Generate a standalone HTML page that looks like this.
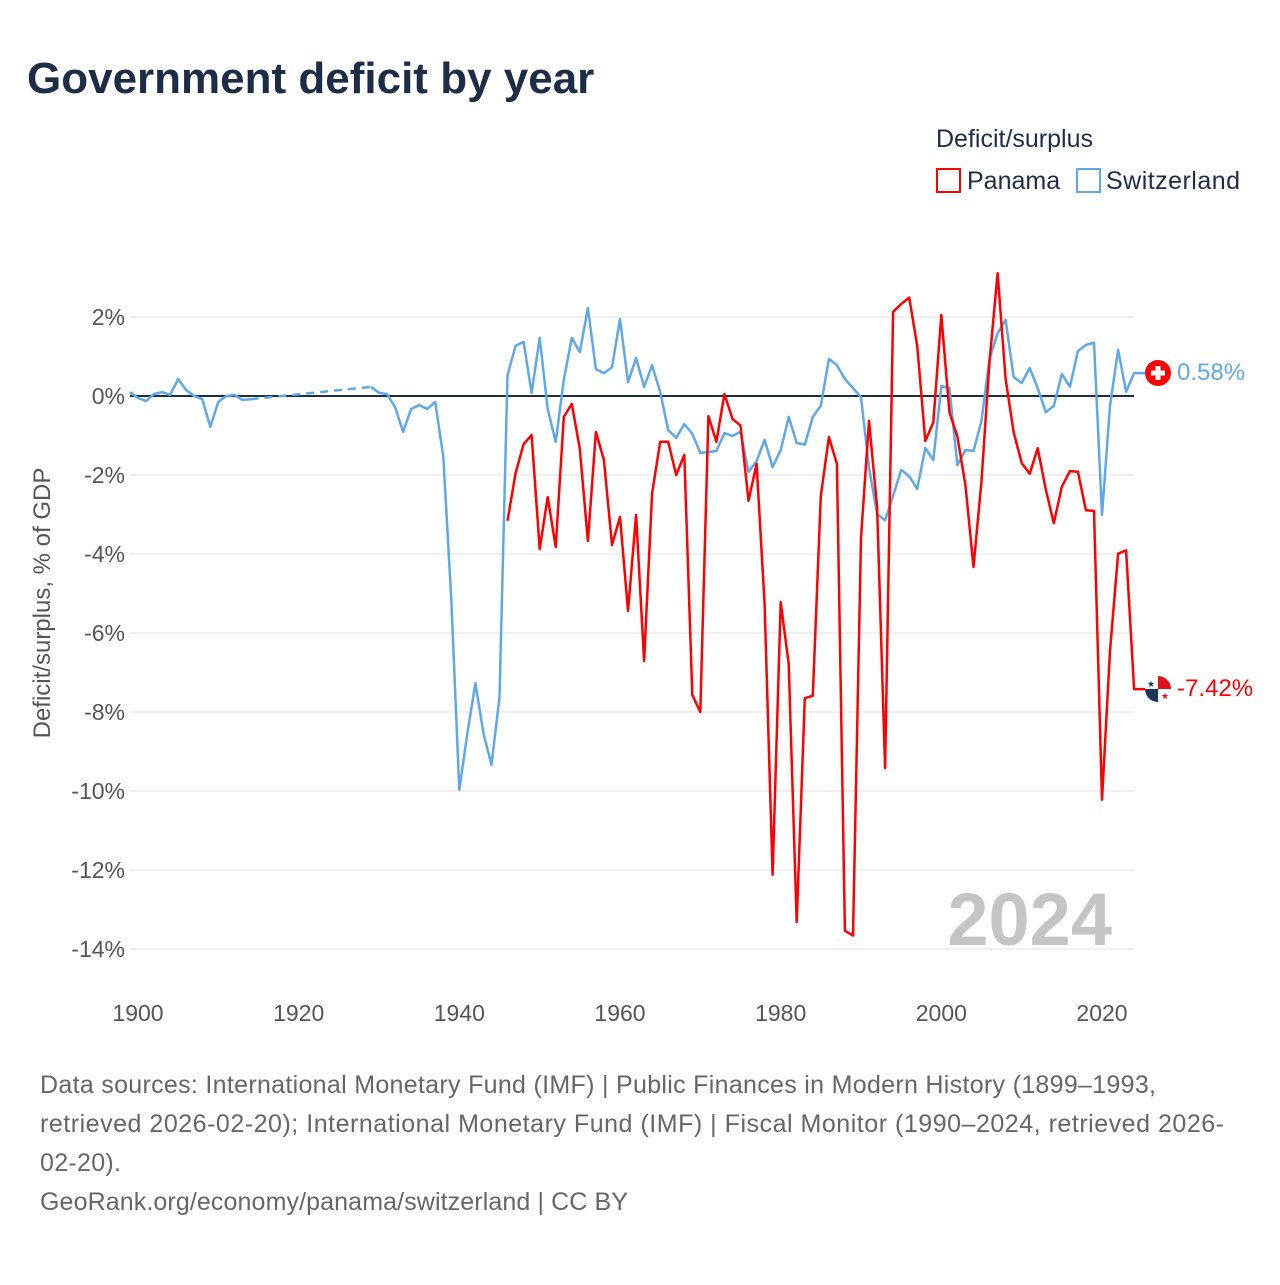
<!DOCTYPE html>
<html><head><meta charset="utf-8">
<style>
body{margin:0;background:#fff;font-family:"Liberation Sans",sans-serif;}
svg text{font-family:"Liberation Sans",sans-serif;}
</style></head>
<body>
<svg id="chart" width="1280" height="1280" viewBox="0 0 1280 1280" xmlns="http://www.w3.org/2000/svg">
<text x="27" y="93" font-size="44" font-weight="bold" fill="#1e2d47">Government deficit by year</text>
<text x="936" y="147" font-size="25" fill="#1e2d47">Deficit/surplus</text>
<g>
<rect x="937" y="169" width="23" height="23" fill="none" stroke="#ff0000" stroke-width="2"/>
<text x="967" y="189" font-size="25" fill="#1e2d47">Panama</text></g>
<g>
<rect x="1077" y="169" width="23" height="23" fill="none" stroke="#5fa8e8" stroke-width="2"/>
<text x="1106" y="189" font-size="25" fill="#1e2d47" textLength="134">Switzerland</text></g>
<text transform="translate(50,603) rotate(-90)" text-anchor="middle" font-size="24" fill="#555">Deficit/surplus, % of GDP</text>
<g id="grid"></g>
<text x="1112" y="945" text-anchor="end" font-size="74" font-weight="bold" fill="#c4c4c4">2024</text>
<g id="series"></g>
<g>
<circle cx="1158" cy="373" r="13" fill="#ff0000"/>
<rect x="1151" y="370.5" width="14" height="5" fill="#fff"/><rect x="1155.5" y="366" width="5" height="14" fill="#fff"/></g>
<text x="1177" y="380" font-size="24" fill="#5fa8e8">0.58%</text>
<g>
<clipPath id="pc"><circle cx="1158" cy="689" r="13"/></clipPath>
<g clip-path="url(#pc)"><rect x="1145" y="676" width="26" height="26" fill="#fff"/>
<rect x="1158" y="676" width="13" height="13" fill="#e01020"/><rect x="1145" y="689" width="13" height="13" fill="#1d3557"/></g>
<text x="1151" y="687" font-size="9" fill="#1d3557" text-anchor="middle">★</text>
<text x="1165" y="699" font-size="9" fill="#e01020" text-anchor="middle">★</text></g>
<text x="1177" y="696" font-size="24" fill="#ff0000">-7.42%</text>
<g font-size="25" fill="#666">
<text x="40" y="1093" textLength="1116">Data sources: International Monetary Fund (IMF) | Public Finances in Modern History (1899–1993,</text>
<text x="40" y="1132" textLength="1184">retrieved 2026-02-20); International Monetary Fund (IMF) | Fiscal Monitor (1990–2024, retrieved 2026-</text>
<text x="40" y="1171" textLength="81">02-20).</text>
<text x="40" y="1210" textLength="588">GeoRank.org/economy/panama/switzerland | CC BY</text></g>
</svg>
<script>
const yTicks=[2,0,-2,-4,-6,-8,-10,-12,-14];
const xTicks=[1900,1920,1940,1960,1980,2000,2020];
const swissYears=[1899,1900,1901,1902,1903,1904,1905,1906,1907,1908,1909,1910,1911,1912,1913,1914,1929,1930,1931,1932,1933,1934,1935,1936,1937,1938,1939,1940,1941,1942,1943,1944,1945,1946,1947,1948,1949,1950,1951,1952,1953,1954,1955,1956,1957,1958,1959,1960,1961,1962,1963,1964,1965,1966,1967,1968,1969,1970,1971,1972,1973,1974,1975,1976,1977,1978,1979,1980,1981,1982,1983,1984,1985,1986,1987,1988,1989,1990,1991,1992,1993,1994,1995,1996,1997,1998,1999,2000,2001,2002,2003,2004,2005,2006,2007,2008,2009,2010,2011,2012,2013,2014,2015,2016,2017,2018,2019,2020,2021,2022,2023,2024];
const swissValues=[0.10,-0.05,-0.13,0.05,0.10,0.03,0.43,0.15,0,-0.08,-0.78,-0.15,0,0.03,-0.10,-0.08,0.23,0.08,0.05,-0.28,-0.91,-0.33,-0.23,-0.33,-0.15,-1.54,-5.16,-9.97,-8.53,-7.27,-8.53,-9.34,-7.62,0.53,1.27,1.37,0.08,1.47,-0.33,-1.16,0.41,1.47,1.11,2.23,0.68,0.58,0.73,1.95,0.35,0.96,0.23,0.78,0.10,-0.86,-1.06,-0.71,-0.96,-1.44,-1.42,-1.39,-0.94,-1.01,-0.91,-1.92,-1.65,-1.11,-1.80,-1.37,-0.53,-1.19,-1.23,-0.53,-0.25,0.94,0.78,0.43,0.20,-0.03,-1.81,-2.99,-3.15,-2.53,-1.87,-2.03,-2.35,-1.32,-1.62,0.25,0.20,-1.75,-1.37,-1.39,-0.63,0.94,1.59,1.93,0.48,0.33,0.71,0.20,-0.41,-0.25,0.56,0.23,1.14,1.29,1.35,-3.01,-0.25,1.17,0.11,0.58];
const panamaStart=1946;
const panamaValues=[-3.16,-1.95,-1.22,-0.99,-3.87,-2.56,-3.82,-0.53,-0.20,-1.34,-3.67,-0.91,-1.62,-3.77,-3.06,-5.44,-3.01,-6.71,-2.46,-1.16,-1.16,-2.0,-1.49,-7.57,-8.0,-0.51,-1.16,0.05,-0.58,-0.75,-2.65,-1.72,-5.27,-12.12,-5.22,-6.78,-13.32,-7.65,-7.59,-2.53,-1.04,-1.72,-13.54,-13.66,-3.59,-0.63,-2.81,-9.42,2.13,2.33,2.49,1.27,-1.14,-0.67,2.05,-0.41,-1.03,-2.25,-4.33,-2.15,0.87,3.11,0.43,-0.91,-1.70,-1.97,-1.32,-2.37,-3.22,-2.30,-1.90,-1.92,-2.89,-2.91,-10.22,-6.46,-3.99,-3.91,-7.42];
const NS='http://www.w3.org/2000/svg';
const X=yr=>138+(yr-1900)*(964/120);
const Y=v=>396-v*39.5;
const MARKER_X=1146;
function mk(tag,attrs,parent){const e=document.createElementNS(NS,tag);for(const k in attrs)e.setAttribute(k,attrs[k]);parent.appendChild(e);return e;}
const grid=document.getElementById('grid');
yTicks.forEach(t=>{
  const l=mk('line',{x1:130,x2:1134,y1:Y(t),y2:Y(t),stroke:t===0?'#1e2d47':'#e0e0e0','stroke-width':t===0?2:1},grid);
  
  
  const tx=mk('text',{x:125,y:Y(t)+8,'text-anchor':'end','font-size':23,fill:'#555'},grid);
  tx.textContent=t+'%';
  
  
});
xTicks.forEach(t=>{
  const tx=mk('text',{x:X(t),y:1021,'text-anchor':'middle','font-size':23,fill:'#555'},grid);
  tx.textContent=t;
  
  
});
const ser=document.getElementById('series');
let solid='',dash='';
for(let i=0;i<swissYears.length;i++){
  const p=X(swissYears[i]).toFixed(1)+','+Y(swissValues[i]).toFixed(1);
  if(i===0){solid+='M'+p;continue;}
  if(swissYears[i]-swissYears[i-1]>1){
    dash+='M'+X(swissYears[i-1]).toFixed(1)+','+Y(swissValues[i-1]).toFixed(1)+'L'+p;
    solid+='M'+p;
  } else solid+='L'+p;
}
solid+='H'+MARKER_X;
const sw=mk('path',{d:solid,fill:'none',stroke:'#5fa8e8','stroke-width':2.5,'stroke-linejoin':'round'},ser);


const sd=mk('path',{d:dash,fill:'none',stroke:'#5fa8e8','stroke-width':2.5,'stroke-dasharray':'8,6'},ser);


let pd='';
panamaValues.forEach((v,i)=>{pd+=(i?'L':'M')+X(panamaStart+i).toFixed(1)+','+Y(v).toFixed(1);});
pd+='H'+MARKER_X;
const pl=mk('path',{d:pd,fill:'none',stroke:'#ff0000','stroke-width':2.5,'stroke-linejoin':'round'},ser);


</script>
</body></html>
